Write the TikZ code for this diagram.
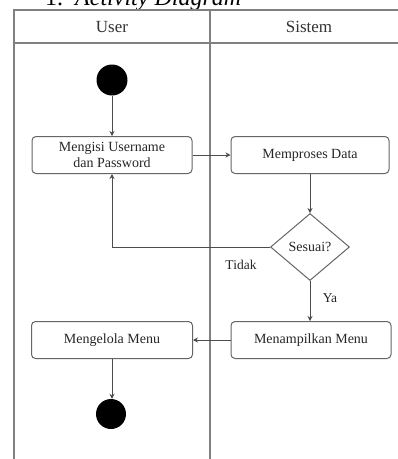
\documentclass[tikz,border=0pt]{standalone}
\usepackage{fontspec}
\setmainfont{Liberation Serif}
\usetikzlibrary{shapes.geometric,arrows.meta}
\begin{document}
\begin{tikzpicture}[x=1pt,y=-1pt,
  lane/.style={draw=black!50,line width=1.6pt},
  act/.style={draw=black!60,line width=1pt,rounded corners=4pt,minimum width=160pt,
    minimum height=37pt,inner sep=1pt,align=center,font=\fontsize{14}{15.5}\selectfont,text=black!85},
  dec/.style={draw=black!60,line width=1pt,diamond,aspect=1.18,minimum width=79pt,
    minimum height=67pt,inner sep=0pt,font=\fontsize{14}{15.5}\selectfont,text=black!85},
  dot/.style={circle,fill=black,minimum size=31pt,inner sep=0pt},
  flow/.style={draw=black!70,line width=1pt,-{Stealth[length=5pt,width=5pt]}},
  lbl/.style={font=\fontsize{13.5}{15}\selectfont,text=black!85},
  hdr/.style={font=\fontsize{17}{19}\selectfont,text=black!80}]
\useasboundingbox (0,0) rectangle (398,459);
\clip (0,0) rectangle (398,459);
\fill[white] (0,0) rectangle (398,459);

% heading of the section
\node[anchor=base west,font=\fontsize{24}{26}\selectfont,inner sep=0pt] (num) at (45,5) {1.};
\node[anchor=base west,font=\fontsize{24}{26}\selectfont\itshape,inner sep=0pt] (ttl) at (75,5) {Activity Diagram};

% swimlanes
\draw[lane] (14,470) -- (14,10) -- (400,10);
\draw[lane] (14,43) -- (400,43);
\draw[lane] (210,10) -- (210,470);
\node[hdr] (hu) at (112,27) {User};
\node[hdr] (hs) at (309,27) {Sistem};

% activities
\node[dot] (start) at (112,80) {};
\node[act] (b1) at (112,155) {Mengisi Username\\dan Password};
\node[act,minimum width=158pt] (b2) at (310,155) {Memproses Data};
\node[dec] (dia) at (310,247) {Sesuai?};
\node[act] (b3) at (311,340) {Menampilkan Menu};
\node[act,minimum width=161pt] (b4) at (112,340) {Mengelola Menu};
\node[dot,minimum size=30pt] (end) at (111,414) {};

% flows
\draw[flow] (start) -- (b1);
\draw[flow] (b1) -- (b2);
\draw[flow] (b2) -- (dia);
\draw[flow] (dia.west) -| (b1.south);
\draw[flow] (dia.south) -- (dia.south |- b3.north);
\draw[flow] (b3) -- (b4);
\draw[flow] (b4.south) -- (b4.south |- end.north);

\node[lbl] (tidak) at (241,265) {Tidak};
\node[lbl] (ya) at (330,298) {Ya};
\end{tikzpicture}
\end{document}
